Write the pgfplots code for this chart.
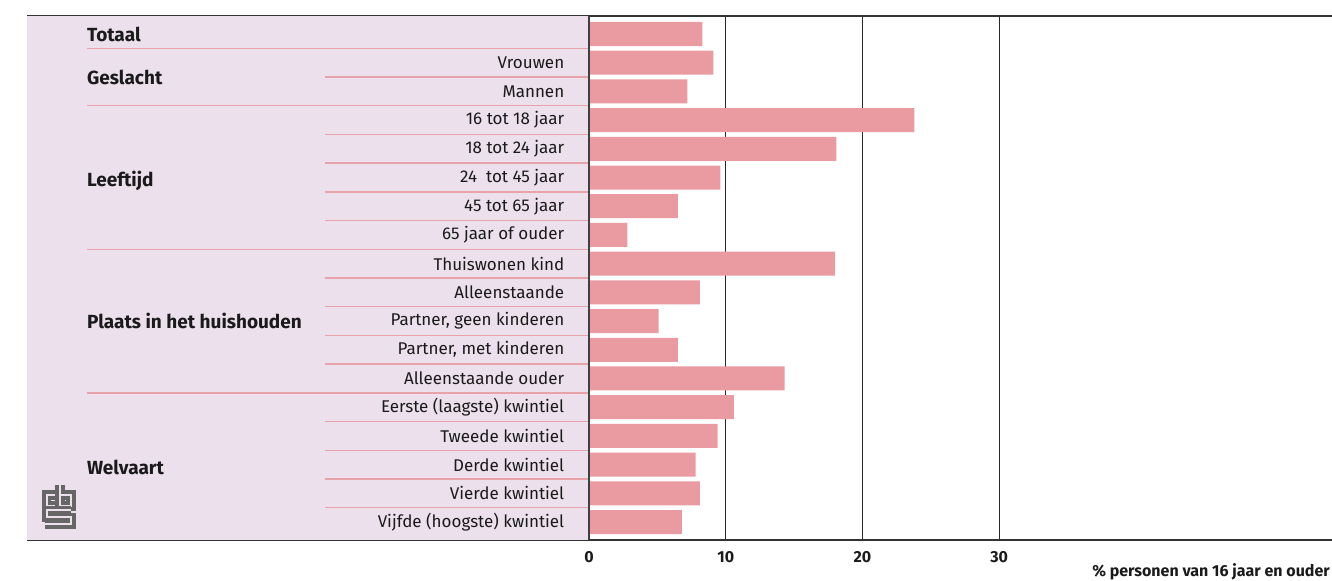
\documentclass[border=0pt]{standalone}
\usepackage{fontspec}
\setmainfont{Fira Sans}
\usepackage{pgfplots}
\pgfplotsset{compat=1.18}

\definecolor{barpink}{HTML}{EA9AA1}
\definecolor{panel}{HTML}{EBE0EC}
\definecolor{seppink}{HTML}{E8A2AA}
\definecolor{ink}{HTML}{1A1A1A}

\begin{document}
\begin{tikzpicture}[every node/.style={font=\fontsize{17bp}{20bp}\selectfont, text=ink},
    grp/.style={anchor=west, inner sep=0pt, font=\fontsize{19bp}{22bp}\selectfont\bfseries},
    cat/.style={anchor=east, inner sep=0pt}]
  \begin{axis}[
      at={(27bp,41bp)}, anchor=south west,
      width=1305bp, height=524bp, scale only axis,
      xmin=-41.11, xmax=54.35,
      ymin=-0.627, ymax=17.627, y dir=reverse,
      axis x line=box, axis y line=none,
      x axis line style={line width=1.5bp, black!80},
      xtick={0,10,20,30}, ytick=\empty,
      major tick length=0pt,
      /pgf/number format/assume math mode=true,
      xticklabel style={font=\fontsize{16bp}{19bp}\selectfont\bfseries, yshift=-8bp},
      xmajorgrids, grid style={line width=1.2bp, black!85},
      clip=false,
    ]
    % left panel
    \fill[panel] (axis cs:-41.11,-0.627) rectangle (axis cs:0,17.627);

    % separators between groups
    \pgfplotsinvokeforeach{0.5,2.5,7.5,12.5}{
      \draw[seppink, line width=1.4bp] (axis cs:-36.73,#1) -- (axis cs:0,#1);
    }
    % separators within groups
    \pgfplotsinvokeforeach{1.5,3.5,4.5,5.5,6.5,8.5,9.5,10.5,11.5,13.5,14.5,15.5,16.5}{
      \draw[seppink, line width=1.4bp] (axis cs:-19.32,#1) -- (axis cs:0,#1);
    }

    \addplot[xbar, fill=barpink, draw=none, bar width=24bp] coordinates {
      (8.3,0) (9.1,1) (7.2,2) (23.8,3) (18.1,4) (9.6,5) (6.5,6) (2.8,7)
      (18.0,8) (8.1,9) (5.1,10) (6.5,11) (14.3,12)
      (10.6,13) (9.4,14) (7.8,15) (8.1,16) (6.8,17)
    };

    % zero line
    \draw[black!75, line width=2bp] (axis cs:0,-0.627) -- (axis cs:0,17.627);

    % group labels
    \node[grp] at (axis cs:-36.73,0) {Totaal};
    \node[grp] at (axis cs:-36.73,1.5) {Geslacht};
    \node[grp] at (axis cs:-36.73,5.1) {Leeftijd};
    \node[grp] at (axis cs:-36.73,10) {Plaats in het huishouden};
    \node[grp] at (axis cs:-36.73,15.1) {Welvaart};

    % category labels
    \node[cat] at (axis cs:-1.8,1) {Vrouwen};
    \node[cat] at (axis cs:-1.8,2) {Mannen};
    \node[cat] at (axis cs:-1.8,3) {16 tot 18 jaar};
    \node[cat] at (axis cs:-1.8,4) {18 tot 24 jaar};
    \node[cat] at (axis cs:-1.8,5) {24\ \ tot 45 jaar};
    \node[cat] at (axis cs:-1.8,6) {45 tot 65 jaar};
    \node[cat] at (axis cs:-1.8,7) {65 jaar of ouder};
    \node[cat] at (axis cs:-1.8,8) {Thuiswonen kind};
    \node[cat] at (axis cs:-1.8,9) {Alleenstaande};
    \node[cat] at (axis cs:-1.8,10) {Partner, geen kinderen};
    \node[cat] at (axis cs:-1.8,11) {Partner, met kinderen};
    \node[cat] at (axis cs:-1.8,12) {Alleenstaande ouder};
    \node[cat] at (axis cs:-1.8,13) {Eerste (laagste) kwintiel};
    \node[cat] at (axis cs:-1.8,14) {Tweede kwintiel};
    \node[cat] at (axis cs:-1.8,15) {Derde kwintiel};
    \node[cat] at (axis cs:-1.8,16) {Vierde kwintiel};
    \node[cat] at (axis cs:-1.8,17) {Vijfde (hoogste) kwintiel};
  \end{axis}

  % axis title
  \node[anchor=east, inner sep=0pt, font=\fontsize{16bp}{19bp}\selectfont\bfseries] at (1330bp,9bp) {\% personen van 16 jaar en ouder};

  % cbs logo (outline strokes)
  \begin{scope}[shift={(0bp,581bp)}, x=1bp, y=-1bp,
      logo/.style={draw=black!60, line width=3.6bp, double=panel, double distance=2bp}]
    \draw[logo] (56,495) -- (46.5,495) -- (46.5,506) -- (56,506);
    \draw[logo] (60,485.5) -- (60,506) -- (71,506) -- (71,495) -- (60,495);
    \draw[logo] (71,510.5) -- (46.5,510.5) -- (46.5,517.5) -- (71,517.5) -- (71,524.5) -- (45,524.5);
  \end{scope}

  \pgfresetboundingbox
  \useasboundingbox (0bp,0bp) rectangle (1332bp,581bp);
\end{tikzpicture}
\end{document}
